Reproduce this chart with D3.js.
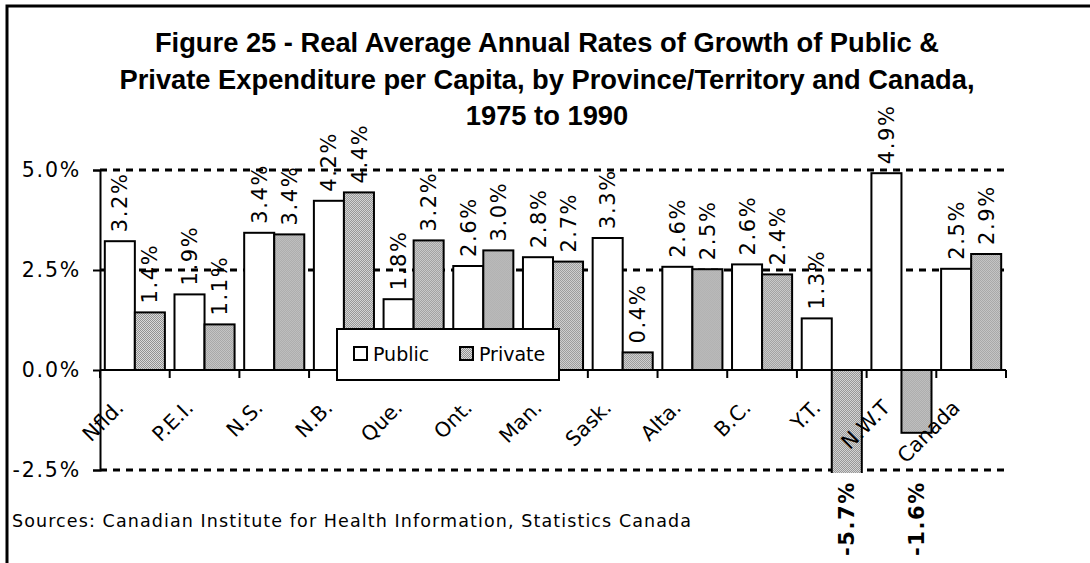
<!DOCTYPE html>
<html>
<head>
<meta charset="utf-8">
<script src="https://cdn.jsdelivr.net/npm/d3@7"></script>
<style>
  body { margin: 0; background: #fff; }
  svg { display: block; }
</style>
</head>
<body>
<script>
// values (percent)
let categories = ["Nfld.", "P.E.I.", "N.S.", "N.B.", "Que.", "Ont.", "Man.", "Sask.", "Alta.", "B.C.", "Y.T.", "N.W.T", "Canada"];
let publicVals = [3.22, 1.89, 3.43, 4.23, 1.77, 2.6, 2.82, 3.3, 2.58, 2.64, 1.29, 4.92, 2.53];
let privateVals = [1.44, 1.14, 3.39, 4.44, 3.24, 2.99, 2.71, 0.44, 2.52, 2.39, -5.7, -1.57, 2.9];
let seriesNames = ["Public", "Private"];
let yTicks = [-2.5, 0, 2.5, 5];
let gridVals = [-2.5, 2.5, 5];
let titleLines = [
  "Figure 25 - Real Average Annual Rates of Growth of Public &",
  "Private Expenditure per Capita, by Province/Territory and Canada,",
  "1975 to 1990"
];
let sourceText = "Sources: Canadian Institute for Health Information, Statistics Canada";

let W = 1090, H = 563;
let font = "'DejaVu Sans', Verdana, sans-serif";
let titleFont = "'Liberation Sans', Arial, sans-serif";

let svg = d3.select("body").append("svg")
  .attr("width", W).attr("height", H)
  .style("font-family", font);

svg.append("rect").attr("width", W).attr("height", H).attr("fill", "#fff");

// pattern for private bars
let defs = svg.append("defs");
let pat = defs.append("pattern").attr("id", "dots")
  .attr("patternUnits", "userSpaceOnUse").attr("width", 2).attr("height", 2);
pat.append("rect").attr("width", 2).attr("height", 2).attr("fill", "#dadada");
pat.append("rect").attr("x", 0).attr("y", 0).attr("width", 1).attr("height", 1).attr("fill", "#929292");
pat.append("rect").attr("x", 1).attr("y", 1).attr("width", 1).attr("height", 1).attr("fill", "#929292");

// outer frame (right and bottom edges fall outside the picture)
svg.append("rect").attr("x", 7).attr("y", 6).attr("width", 1200).attr("height", 700)
  .attr("fill", "none").attr("stroke", "#000").attr("stroke-width", 3);

let plot = { left: 100, right: 1006, top: 170, bottom: 470 };

let x0 = d3.scaleBand().domain(categories).range([plot.left, plot.right]);
let x1 = d3.scaleBand().domain(seriesNames).range([0, x0.bandwidth()]).paddingOuter(0.16);
let y = d3.scaleLinear().domain([-2.5, 5]).range([plot.bottom, plot.top]);

let pct = v => d3.format(".1f")(v).replace("\u2212", "-") + "%";

// title
svg.append("g").selectAll("text").data(titleLines).enter().append("text")
  .attr("x", 547).attr("y", (d, i) => 52 + i * 36.5)
  .attr("text-anchor", "middle")
  .attr("font-family", titleFont)
  .attr("font-size", 27.3).attr("font-weight", "bold")
  .text(d => d);

// gridlines
svg.append("g").selectAll("line").data(gridVals).enter().append("line")
  .attr("x1", plot.left).attr("x2", plot.right)
  .attr("y1", d => y(d)).attr("y2", d => y(d))
  .attr("stroke", "#000").attr("stroke-width", 3).attr("stroke-dasharray", "7,6");

// bars
defs.append("clipPath").attr("id", "clip").append("rect")
  .attr("x", plot.left - 5).attr("y", plot.top - 10)
  .attr("width", plot.right - plot.left + 10).attr("height", plot.bottom - plot.top + 13);

let rows = categories.map((c, i) => ({ cat: c, vals: [
  { s: "Public", v: publicVals[i] },
  { s: "Private", v: privateVals[i] }
] }));

let groups = svg.append("g").attr("clip-path", "url(#clip)")
  .selectAll("g").data(rows).enter().append("g")
  .attr("transform", d => "translate(" + x0(d.cat) + ",0)");

groups.selectAll("rect").data(d => d.vals).enter().append("rect")
  .attr("x", d => x1(d.s))
  .attr("y", d => y(Math.max(0, d.v)))
  .attr("width", x1.bandwidth())
  .attr("height", d => Math.abs(y(d.v) - y(0)))
  .attr("fill", d => d.s == "Public" ? "#fff" : "url(#dots)")
  .attr("stroke", "#000").attr("stroke-width", 2);

// y axis
let yAxis = svg.append("g").attr("transform", "translate(" + plot.left + ",0)")
  .call(d3.axisLeft(y).tickValues(yTicks).tickSize(7).tickPadding(12).tickFormat(pct));
yAxis.select(".domain").attr("stroke-width", 2);
yAxis.selectAll(".tick line").attr("stroke-width", 2);
yAxis.selectAll("text").attr("font-size", 20.5).attr("font-family", font)
  .attr("letter-spacing", 1.8).attr("fill", "#000");

// x axis at zero
let xAxis = svg.append("g").attr("transform", "translate(0," + y(0) + ")");
xAxis.append("line").attr("x1", plot.left).attr("x2", plot.right)
  .attr("stroke", "#000").attr("stroke-width", 2);
xAxis.selectAll(".tk").data(categories.map(c => x0(c)).concat([plot.right])).enter()
  .append("line").attr("class", "tk")
  .attr("x1", d => d).attr("x2", d => d).attr("y1", 0).attr("y2", 8)
  .attr("stroke", "#000").attr("stroke-width", 2);

// category labels
svg.append("g").selectAll("text").data(categories).enter().append("text")
  .attr("transform", d => "translate(" + (x0(d) + x0.bandwidth() / 2 - 10) + "," + (y(0) + 39) + ") rotate(-45)")
  .attr("text-anchor", "end")
  .attr("font-size", 20.5)
  .text(d => d);

// value labels
let labels = [];
rows.forEach(r => r.vals.forEach(d => labels.push({ cat: r.cat, s: d.s, v: d.v })));
svg.append("g").selectAll("text").data(labels).enter().append("text")
  .attr("transform", d => {
    let cx = x0(d.cat) + x1(d.s) + x1.bandwidth() / 2;
    let yy = d.v >= 0 ? y(d.v) - 9 : y.range()[0] + 86;
    return "translate(" + cx + "," + yy + ") rotate(-90)";
  })
  .attr("dy", "0.36em")
  .attr("text-anchor", "start")
  .attr("font-size", 21)
  .attr("letter-spacing", 1.6)
  .attr("font-weight", d => d.v < 0 ? "bold" : "normal")
  .text(d => pct(d.v));

// legend
let lg = svg.append("g").attr("transform", "translate(337,329)");
lg.append("rect").attr("width", 222).attr("height", 51)
  .attr("fill", "#fff").attr("stroke", "#000").attr("stroke-width", 2);
let items = lg.selectAll("g").data(seriesNames).enter().append("g")
  .attr("transform", (d, i) => "translate(" + (17 + i * 106) + ",0)");
items.append("rect").attr("x", 0).attr("y", 18).attr("width", 13).attr("height", 13)
  .attr("fill", d => d == "Public" ? "#fff" : "url(#dots)")
  .attr("stroke", "#000").attr("stroke-width", 2);
items.append("text").attr("x", 19).attr("y", 32).attr("font-size", 19).text(d => d);

// source note
svg.append("text").attr("x", 12).attr("y", 527).attr("font-size", 17.5)
  .attr("letter-spacing", 1.1)
  .text(sourceText);
</script>
</body>
</html>
